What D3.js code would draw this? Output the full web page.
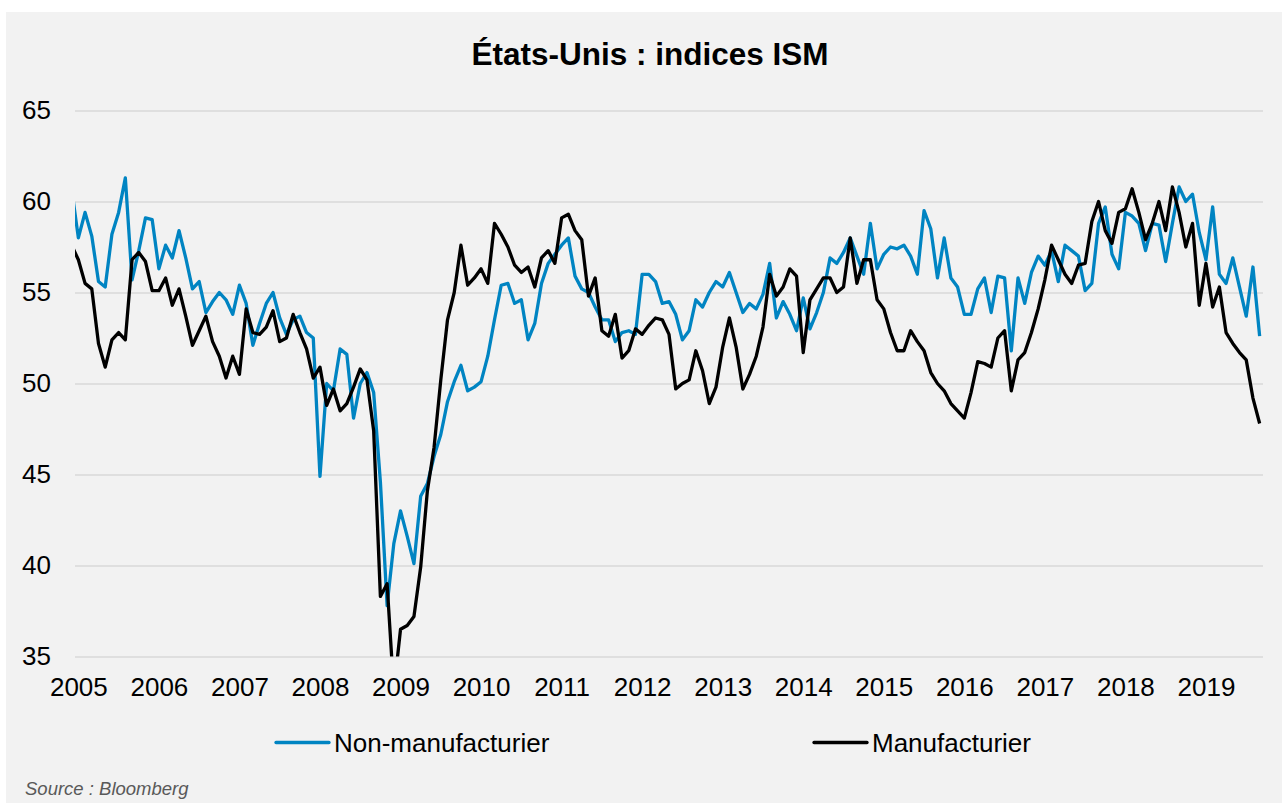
<!DOCTYPE html>
<html>
<head>
<meta charset="utf-8">
<script src="https://cdn.jsdelivr.net/npm/d3@7"></script>
<style>
  body { margin: 0; background: #ffffff; }
  text { font-family: "Liberation Sans", Arial, sans-serif; }
</style>
</head>
<body>
<div id="chart"></div>
<script>
/* =========================
   Data (monthly, Dec 2004 -> Sep 2019)
========================= */
const firstMonth = "2004-12";
const yearLabels = ["2005", "2006", "2007", "2008", "2009", "2010", "2011", "2012",
                    "2013", "2014", "2015", "2016", "2017", "2018", "2019"];
const yTicks = [35, 40, 45, 50, 55, 60, 65];

// ISM non-manufacturier
const nonManufacturing = [
    60.7,
    58.0, 59.4, 58.1, 55.6, 55.3, 58.2, 59.4, 61.3, 55.7, 57.3, 59.1, 59.0, // 2005
    56.3, 57.6, 56.9, 58.4, 56.9, 55.2, 55.6, 53.9, 54.5, 55.0, 54.6, 53.8, // 2006
    55.4, 54.4, 52.1, 53.3, 54.4, 55.0, 53.6, 52.7, 53.5, 53.7, 52.8, 52.5, // 2007
    44.9, 50.0, 49.6, 51.9, 51.6, 48.1, 50.0, 50.6, 49.5, 44.6, 37.8, 41.2, // 2008
    43.0, 41.6, 40.1, 43.8, 44.5, 46.0, 47.2, 49.0, 50.1, 51.0, 49.6, 49.8, // 2009
    50.1, 51.5, 53.5, 55.4, 55.5, 54.4, 54.6, 52.4, 53.3, 55.5, 56.6, 57.1, // 2010
    57.6, 58.0, 55.9, 55.2, 55.0, 54.2, 53.5, 53.5, 52.3, 52.8, 52.9, 52.7, // 2011
    56.0, 56.0, 55.6, 54.4, 54.5, 53.8, 52.4, 52.9, 54.6, 54.2, 55.0, 55.6, // 2012
    55.3, 56.1, 55.0, 53.9, 54.4, 54.1, 54.9, 56.6, 53.6, 54.5, 53.8, 52.9, // 2013
    54.7, 53.0, 53.9, 55.0, 56.9, 56.6, 57.2, 58.0, 57.0, 56.0, 58.8, 56.3, // 2014
    57.1, 57.5, 57.4, 57.6, 57.0, 56.0, 59.5, 58.5, 55.8, 58.0, 55.8, 55.3, // 2015
    53.8, 53.8, 55.2, 55.8, 53.9, 55.9, 55.8, 51.8, 55.8, 54.4, 56.1, 57.0, // 2016
    56.5, 57.3, 55.6, 57.6, 57.3, 57.0, 55.1, 55.5, 58.8, 59.7, 57.1, 56.3, // 2017
    59.4, 59.2, 58.8, 57.3, 58.8, 58.7, 56.7, 58.8, 60.8, 60.0, 60.4, 58.3, // 2018
    56.8, 59.7, 56.0, 55.5, 56.9, 55.3, 53.7, 56.4, 52.6                    // 2019
];

// ISM manufacturier
const manufacturing = [
    57.6,
    56.8, 55.5, 55.2, 52.2, 50.9, 52.4, 52.8, 52.4, 56.8, 57.2, 56.7, 55.1, // 2005
    55.1, 55.8, 54.3, 55.2, 53.7, 52.1, 52.9, 53.7, 52.3, 51.5, 50.3, 51.5, // 2006
    50.5, 54.1, 52.8, 52.7, 53.1, 54.0, 52.3, 52.5, 53.8, 52.8, 51.9, 50.3, // 2007
    50.9, 48.8, 49.7, 48.5, 48.9, 49.8, 50.8, 50.2, 47.4, 38.3, 39.0, 33.1, // 2008
    36.5, 36.7, 37.2, 39.9, 44.1, 46.5, 50.2, 53.5, 55.0, 57.6, 55.4, 55.8, // 2009
    56.3, 55.5, 58.8, 58.2, 57.5, 56.5, 56.1, 56.4, 55.3, 56.9, 57.3, 56.6, // 2010
    59.1, 59.3, 58.4, 57.9, 54.8, 55.8, 52.9, 52.6, 53.8, 51.4, 51.8, 53.0, // 2011
    52.7, 53.2, 53.6, 53.5, 52.7, 49.7, 50.0, 50.2, 51.8, 50.7, 48.9, 49.8, // 2012
    52.0, 53.6, 52.0, 49.7, 50.5, 51.5, 53.1, 56.0, 54.8, 55.3, 56.3, 55.9, // 2013
    51.7, 54.6, 55.2, 55.8, 55.8, 55.0, 55.3, 58.0, 55.5, 56.8, 56.8, 54.6, // 2014
    54.1, 52.8, 51.8, 51.8, 52.9, 52.3, 51.8, 50.6, 50.0, 49.6, 48.9, 48.5, // 2015
    48.1, 49.5, 51.2, 51.1, 50.9, 52.5, 52.9, 49.6, 51.3, 51.7, 52.8, 54.1, // 2016
    55.7, 57.6, 56.8, 56.0, 55.5, 56.5, 56.6, 58.9, 60.0, 58.4, 57.7, 59.4, // 2017
    59.6, 60.7, 59.4, 57.9, 58.8, 60.0, 58.4, 60.8, 59.4, 57.5, 58.8, 54.3, // 2018
    56.6, 54.2, 55.3, 52.8, 52.2, 51.7, 51.3, 49.2, 47.8                    // 2019
];

const seriesNames = ["Non-manufacturier", "Manufacturier"];
const seriesColors = ["#0084c2", "#000000"];

/* =========================
   Layout
========================= */
const W = 1282, H = 803;
const plot = { left: 75, right: 1263, top: 110.5, bottom: 656.5 };

const svg = d3.select("#chart").append("svg")
    .attr("width", W)
    .attr("height", H);

svg.append("rect")
    .attr("x", 6).attr("y", 12)
    .attr("width", W - 6).attr("height", H - 12)
    .attr("fill", "#f2f2f2");

svg.append("text")
    .attr("x", 650).attr("y", 65)
    .attr("text-anchor", "middle")
    .attr("font-size", 31.5)
    .attr("font-weight", "bold")
    .attr("fill", "#000")
    .text("États-Unis : indices ISM");

// month index: 0 = first month (Dec 2004)
const n = nonManufacturing.length;
const x = d3.scaleLinear()
    .domain([0.5, n - 0.5])
    .range([plot.left, plot.right]);

const y = d3.scaleLinear()
    .domain([35, 65])
    .range([plot.bottom, plot.top]);

// gridlines
svg.append("g")
    .attr("transform", `translate(${plot.left},0)`)
    .call(d3.axisLeft(y).tickValues(yTicks).tickSize(-(plot.right - plot.left)).tickFormat(""))
    .call(g => g.select(".domain").remove())
    .call(g => g.selectAll(".tick line").attr("stroke", "#d9d9d9").attr("stroke-width", 1.5));

// y labels
svg.append("g")
    .attr("transform", `translate(${plot.left},0)`)
    .call(d3.axisLeft(y).tickValues(yTicks).tickSize(0).tickPadding(24))
    .call(g => g.select(".domain").remove())
    .call(g => g.selectAll("text")
        .attr("font-family", "Liberation Sans, Arial, sans-serif")
        .attr("font-size", 26)
        .attr("fill", "#000"));

// x labels: each January
const janIndex = yearLabels.map((yr, k) => 1 + 12 * k);
svg.append("g")
    .attr("transform", `translate(0,${plot.bottom})`)
    .call(d3.axisBottom(x).tickValues(janIndex).tickSize(0).tickPadding(21)
        .tickFormat((d, k) => yearLabels[k]))
    .call(g => g.select(".domain").remove())
    .call(g => g.selectAll("text")
        .attr("font-family", "Liberation Sans, Arial, sans-serif")
        .attr("font-size", 26)
        .attr("fill", "#000"));

// clip to plot area
svg.append("clipPath").attr("id", "plotClip")
    .append("rect")
    .attr("x", plot.left).attr("y", plot.top - 10)
    .attr("width", plot.right - plot.left)
    .attr("height", plot.bottom - plot.top + 10);

const line = d3.line()
    .x((d, i) => x(i))
    .y(d => y(d));

const lines = svg.append("g").attr("clip-path", "url(#plotClip)");

[nonManufacturing, manufacturing].forEach((vals, k) => {
    lines.append("path")
        .datum(vals)
        .attr("fill", "none")
        .attr("stroke", seriesColors[k])
        .attr("stroke-width", 3.3)
        .attr("stroke-linejoin", "round")
        .attr("d", line);
});

/* =========================
   Legend
========================= */
const legendX = [276, 814];
const legend = svg.append("g");
seriesNames.forEach((name, k) => {
    legend.append("line")
        .attr("x1", legendX[k]).attr("x2", legendX[k] + 53)
        .attr("y1", 742.5).attr("y2", 742.5)
        .attr("stroke", seriesColors[k])
        .attr("stroke-width", 3.3)
        .attr("stroke-linecap", "round");
    legend.append("text")
        .attr("x", legendX[k] + 58).attr("y", 751.5)
        .attr("font-size", 26)
        .attr("fill", "#000")
        .text(name);
});

svg.append("text")
    .attr("x", 25).attr("y", 795)
    .attr("font-size", 18.5)
    .attr("font-style", "italic")
    .attr("fill", "#595959")
    .text("Source : Bloomberg");
</script>
</body>
</html>
